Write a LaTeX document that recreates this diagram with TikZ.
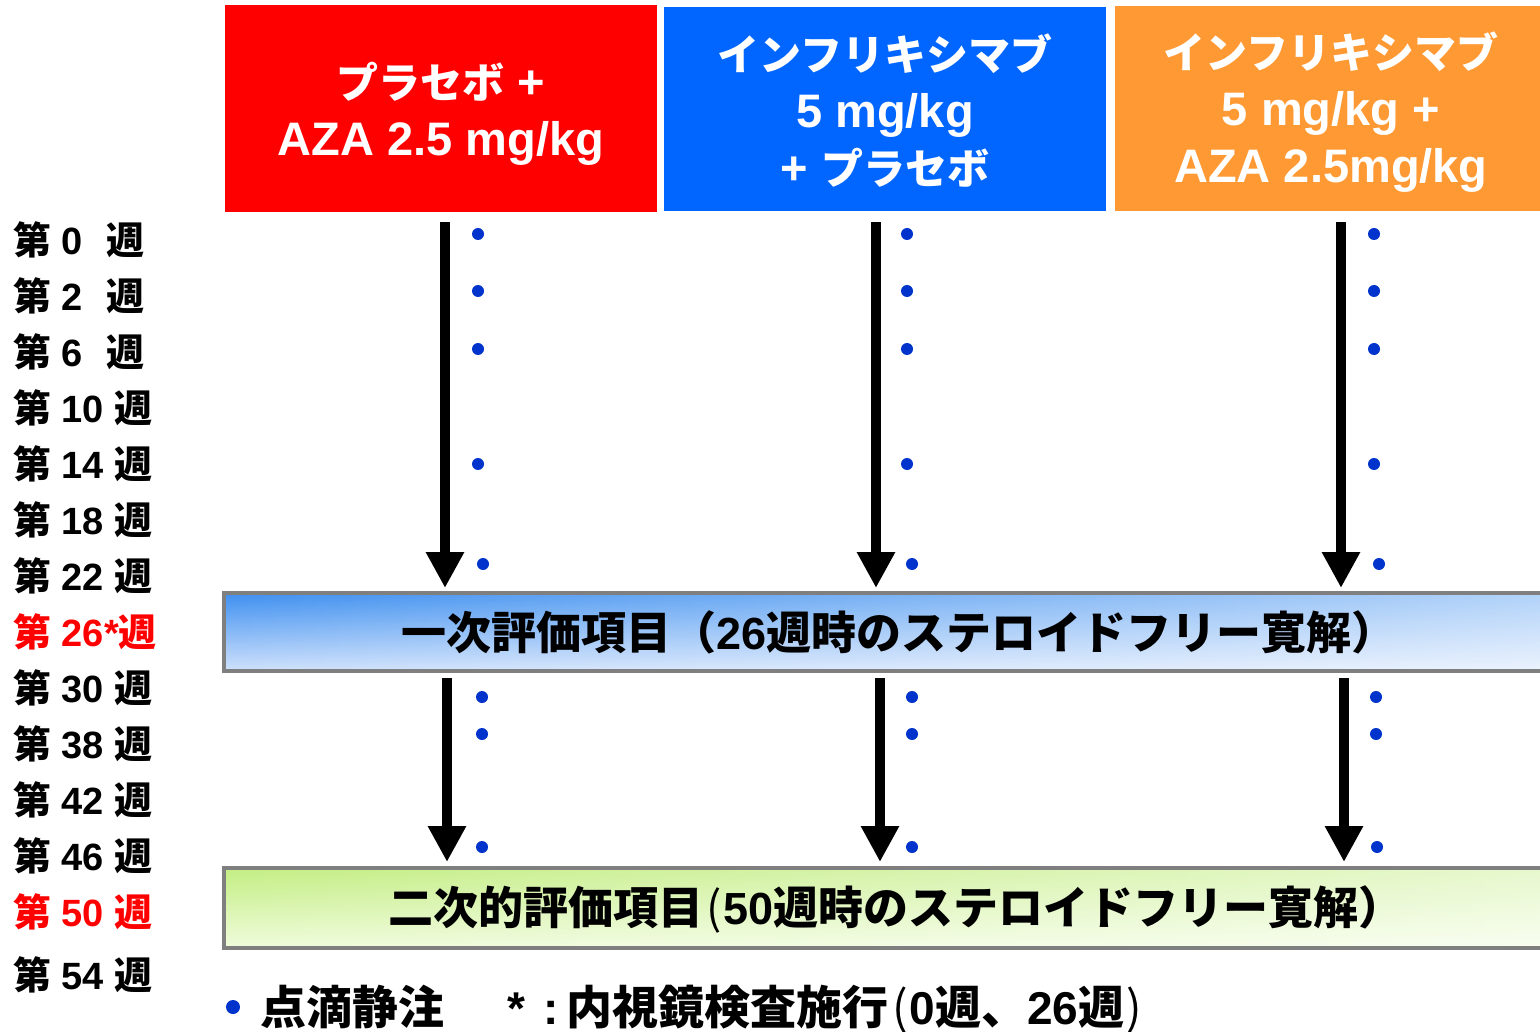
\documentclass[tikz,border=0pt]{standalone}
\usepackage{fontspec}
\setmainfont{Liberation Sans}
\newfontfamily\cjk{Noto Sans CJK JP}
\usetikzlibrary{arrows.meta,fadings}
\tikzfading[name=fadeinright, left color=transparent!100, right color=transparent!0]
\definecolor{hred}{HTML}{FF0000}
\definecolor{hblue}{HTML}{0066FF}
\definecolor{horange}{HTML}{FF9933}
\definecolor{dotblue}{HTML}{0033CC}
\definecolor{bordergray}{HTML}{7F7F7F}
\definecolor{primtop}{HTML}{3F90F0}
\definecolor{primbot}{HTML}{D0E2FC}
\definecolor{sectop}{HTML}{C4EE84}
\definecolor{secbot}{HTML}{F0FCDC}
\definecolor{wkred}{HTML}{FF0000}
\newcommand\jb[1]{{\cjk\bfseries #1}}
\newcommand\jr[1]{{\cjk\mdseries #1}}
\newcommand\hk[1]{{\cjk\bfseries\fontsize{42}{58}\selectfont #1}}
\tikzset{
 hdr/.style={anchor=north west, inner sep=0pt, outer sep=0pt},
 hdrtxt/.style={inner sep=0pt, text=white, align=center,
   font=\fontsize{47}{57}\selectfont\bfseries},
 wk/.style={anchor=west, inner sep=0pt, font=\fontsize{38}{42}\selectfont\bfseries},
 dot/.style={circle, fill=dotblue, inner sep=0pt, minimum size=12pt},
 arr/.style={line width=10pt, -{Triangle[width=36pt,length=36pt]}},
 endbox/.style={anchor=north west, draw=bordergray, line width=4pt, inner sep=0pt},
 boxtext/.style={inner sep=0pt, font=\fontsize{45}{50}\selectfont\bfseries},
 fn/.style={anchor=base west, inner sep=0pt, font=\fontsize{46}{50}\selectfont\bfseries},
}
\begin{document}
\begin{tikzpicture}[x=1pt,y=-1pt]
\useasboundingbox (0,0) rectangle (1540,1032);
% headers
\node[hdr, fill=hred, minimum width=432pt, minimum height=207pt] (hA) at (225,5) {};
\node[hdrtxt] (hAt) at ([yshift=-5pt]hA.center) {\hk{プラセボ} +\\AZA 2.5 mg/kg};
\node[hdr, fill=hblue, minimum width=442pt, minimum height=204pt] (hB) at (664,7) {};
\node[hdrtxt] (hBt) at ([yshift=-2pt]hB.center) {\hk{インフリキシマブ}\\5 mg/kg\\+ \hk{プラセボ}};
\node[hdr, fill=horange, minimum width=432pt, minimum height=205pt] (hC) at (1115,6) {};
\node[hdrtxt] (hCt) at ([yshift=-4pt]hC.center) {\hk{インフリキシマブ}\\5 mg/kg +\\AZA 2.5mg/kg};
% week labels
\node[wk] (w0) at (13,240) {\jb{第} 0\hspace{13pt} \jb{週}};
\node[wk] (w2) at (13,296) {\jb{第} 2\hspace{13pt} \jb{週}};
\node[wk] (w6) at (13,352) {\jb{第} 6\hspace{13pt} \jb{週}};
\node[wk] (w10) at (13,408) {\jb{第} 10 \jb{週}};
\node[wk] (w14) at (13,464) {\jb{第} 14 \jb{週}};
\node[wk] (w18) at (13,520) {\jb{第} 18 \jb{週}};
\node[wk] (w22) at (13,576) {\jb{第} 22 \jb{週}};
\node[wk, text=wkred] (w26) at (13,632) {\jb{第} 26*\jb{週}};
\node[wk] (w30) at (13,688) {\jb{第} 30 \jb{週}};
\node[wk] (w38) at (13,744) {\jb{第} 38 \jb{週}};
\node[wk] (w42) at (13,800) {\jb{第} 42 \jb{週}};
\node[wk] (w46) at (13,856) {\jb{第} 46 \jb{週}};
\node[wk, text=wkred] (w50) at (13,912) {\jb{第} 50 \jb{週}};
\node[wk] (w54) at (13,975) {\jb{第} 54 \jb{週}};
% endpoint boxes
\node[endbox, minimum width=1326pt, minimum height=78pt, top color=primtop, bottom color=primbot] (prim) at (222,591) {};
\fill[white, path fading=fadeinright, fill opacity=0.6] (226,595) rectangle (1546,669);
\node[boxtext] (primtxt) at (899,632) {\jb{一次評価項目（}26\jb{週時のステロイドフリー寛解）}};
\node[endbox, minimum width=1326pt, minimum height=80pt, top color=sectop, bottom color=secbot] (sec) at (222,866) {};
\fill[white, path fading=fadeinright, fill opacity=0.6] (226,870) rectangle (1546,946);
\node[boxtext] (sectxt) at (896,909) {\jb{二次的評価項目}\hspace{3pt}\jr{(}\hspace{2pt}50\jb{週時のステロイドフリー寛解）}};
% arrows
\coordinate (c1) at (445,222);
\coordinate (c2) at (876,222);
\coordinate (c3) at (1341,222);
\coordinate (e1) at (447,0);
\coordinate (e2) at (880,0);
\coordinate (e3) at (1344,0);
\foreach \i in {1,2,3}{
  \draw[arr, shorten >=3pt] (c\i) -- (c\i |- prim.north);
  \draw[arr, shorten <=5pt, shorten >=4pt] (e\i |- prim.south) -- (e\i |- sec.north);
}
% dots
\foreach \n/\x/\y in {
  a1/478/234, a2/478/291, a3/478/349, a4/478/464, a5/483/564, a6/482/697, a7/482/734, a8/482/847,
  b1/907/234, b2/907/291, b3/907/349, b4/907/464, b5/912/564, b6/912/697, b7/912/734, b8/912/847,
  c1/1374/234, c2/1374/291, c3/1374/349, c4/1374/464, c5/1379/564, c6/1376/697, c7/1376/734, c8/1377/847}
  \node[dot] (d\n) at (\x,\y) {};
% footnote
\node[dot, minimum size=14pt] (fdot) at (233,1007) {};
\node[fn] (fn1) at (260,1024) {\jb{点滴静注}};
\node[fn] (fn2) at (507,1024) {*};
\node[fn] (fn3) at (543,1024) {:\,\jb{内視鏡検査施行}\hspace{4pt}\jr{(}\hspace{2pt}0\jb{週、}26\jb{週}\hspace{2pt}\jr{)}};
\end{tikzpicture}
\end{document}
